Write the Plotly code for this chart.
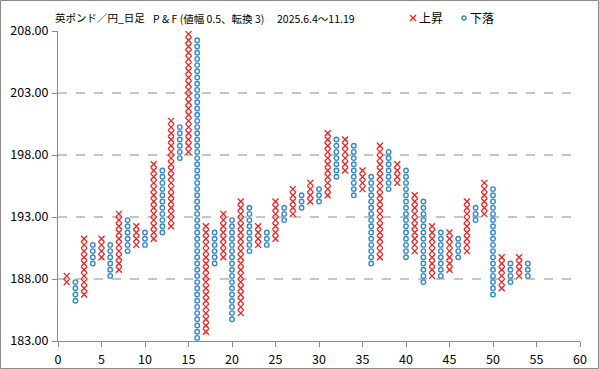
import numpy as np
import plotly.graph_objects as go

# ---- data ----
title_main = "英ポンド／円_日足"
title_sub = "P & F (値幅 0.5、転換 3)"
title_date = "2025.6.4〜11.19"
legend_names = ["上昇", "下落"]
box_size = 0.5

col_no = list(range(1, 55))
col_type = ["X", "O"] * 27
col_low = [187.75, 186.25, 186.75, 189.25, 189.75, 188.25, 188.75, 190.25, 190.75, 190.75,
           191.25, 191.75, 192.25, 197.75, 198.25, 183.25, 183.75, 189.25, 189.75, 184.75,
           185.25, 190.25, 190.75, 190.75, 191.25, 192.75, 193.25, 193.75, 194.25, 194.25,
           194.75, 196.25, 196.75, 194.75, 195.25, 189.25, 189.75, 195.25, 195.75, 189.75,
           190.25, 187.75, 188.25, 188.25, 188.75, 189.75, 190.25, 192.75, 193.25, 186.75,
           187.25, 187.75, 188.25, 188.25]
col_high = [188.25, 187.75, 191.25, 190.75, 191.25, 190.75, 193.25, 192.75, 192.25, 191.75,
            197.25, 196.75, 200.75, 200.25, 207.75, 207.25, 192.25, 191.75, 193.25, 192.75,
            194.25, 193.75, 192.25, 191.75, 194.25, 193.75, 195.25, 194.75, 195.75, 195.25,
            199.75, 199.25, 199.25, 198.75, 196.75, 196.25, 198.75, 198.25, 197.25, 196.75,
            194.75, 194.25, 192.25, 191.75, 191.75, 191.25, 194.25, 193.75, 195.75, 195.25,
            189.75, 189.25, 189.75, 189.25]

x_ticks = list(range(0, 61, 5))
y_ticks = [183, 188, 193, 198, 203, 208]

# ---- build point-and-figure boxes ----
xs_up, ys_up, xs_dn, ys_dn = [], [], [], []
for n, t, lo, hi in zip(col_no, col_type, col_low, col_high):
    levels = np.arange(lo, hi + box_size / 2, box_size)
    if t == "X":
        xs_up += [n] * len(levels)
        ys_up += list(levels)
    else:
        xs_dn += [n] * len(levels)
        ys_dn += list(levels)

RED = "#FF1A1A"
BLUE = "#2E8AD6"
GRID = "#8C8C8C"

fig = go.Figure()
fig.add_trace(go.Scatter(x=xs_up, y=ys_up, mode="markers", name=legend_names[0],
                         marker=dict(symbol="x-thin-open", size=6, color=RED,
                                     line=dict(color=RED, width=1.3)),
                         cliponaxis=False, showlegend=False, hoverinfo="skip"))
fig.add_trace(go.Scatter(x=xs_dn, y=ys_dn, mode="markers", name=legend_names[1],
                         marker=dict(symbol="circle-open", size=4.5, color=BLUE,
                                     line=dict(color=BLUE, width=1.4)),
                         cliponaxis=False, showlegend=False, hoverinfo="skip"))

W, H = 599, 369
L, R, T, B = 58, 19, 31, 28
PW, PH = W - L - R, H - T - B


def px(p):
    return (p - L) / PW


def py(p):
    return (H - B - p) / PH


shapes = []
# dashed horizontal gridlines (not at the top)
for v in y_ticks[1:-1]:
    shapes.append(dict(type="line", xref="paper", yref="y", x0=0, x1=1, y0=v, y1=v,
                       line=dict(color=GRID, width=1, dash="dash"), layer="below"))
# outer chart border
shapes.append(dict(type="rect", xref="paper", yref="paper",
                   x0=px(0.5), x1=px(W - 0.5), y0=py(H - 0.5), y1=py(0.5),
                   line=dict(color="#8A8A8A", width=1)))
# legend glyphs
lx, ly = 413, 18
shapes.append(dict(type="line", xref="paper", yref="paper", x0=px(lx - 3), x1=px(lx + 3),
                   y0=py(ly - 3), y1=py(ly + 3), line=dict(color=RED, width=1.3)))
shapes.append(dict(type="line", xref="paper", yref="paper", x0=px(lx - 3), x1=px(lx + 3),
                   y0=py(ly + 3), y1=py(ly - 3), line=dict(color=RED, width=1.3)))
cx = 464
shapes.append(dict(type="circle", xref="paper", yref="paper", x0=px(cx - 2), x1=px(cx + 2),
                   y0=py(ly + 2), y1=py(ly - 2), line=dict(color=BLUE, width=1.4)))

FONT = "Noto Sans CJK JP"
annotations = [
    dict(text=title_main, x=px(53), y=py(18), xref="paper", yref="paper",
         xanchor="left", yanchor="middle", showarrow=False,
         font=dict(family=FONT, size=10.5, color="#000")),
    dict(text=title_sub, x=px(151), y=py(18.5), xref="paper", yref="paper",
         xanchor="left", yanchor="middle", showarrow=False,
         font=dict(family=FONT, size=10.5, color="#000")),
    dict(text=title_date, x=px(275), y=py(18.5), xref="paper", yref="paper",
         xanchor="left", yanchor="middle", showarrow=False,
         font=dict(family=FONT, size=10.5, color="#000")),
    dict(text=legend_names[0], x=px(417), y=py(18), xref="paper", yref="paper",
         xanchor="left", yanchor="middle", showarrow=False,
         font=dict(family=FONT, size=12, color="#000")),
    dict(text=legend_names[1], x=px(468), y=py(18), xref="paper", yref="paper",
         xanchor="left", yanchor="middle", showarrow=False,
         font=dict(family=FONT, size=12, color="#000")),
]

fig.update_layout(
    width=W, height=H,
    margin=dict(l=L, r=R, t=T, b=B, pad=0),
    paper_bgcolor="white", plot_bgcolor="white",
    shapes=shapes, annotations=annotations,
    font=dict(family=FONT, size=12, color="#000"),
    showlegend=False,
)
fig.update_xaxes(range=[0, 60], tickvals=x_ticks, showgrid=False, zeroline=False,
                 showline=True, linecolor=GRID, linewidth=1, automargin=False,
                 ticks="outside", ticklen=5, tickcolor=GRID, ticklabelstandoff=2,
                 tickfont=dict(family=FONT, size=12.5, color="#000"))
fig.update_yaxes(range=[183, 208], tickvals=y_ticks, tickformat=".2f", showgrid=False,
                 zeroline=False, showline=True, linecolor=GRID, linewidth=1, automargin=False,
                 ticks="outside", ticklen=5, tickcolor=GRID, ticklabelstandoff=1,
                 tickfont=dict(family=FONT, size=12.5, color="#000"))

fig.write_html("out.html", config={"displayModeBar": False},
               post_script="document.body.style.margin='0';document.body.style.padding='0';")
